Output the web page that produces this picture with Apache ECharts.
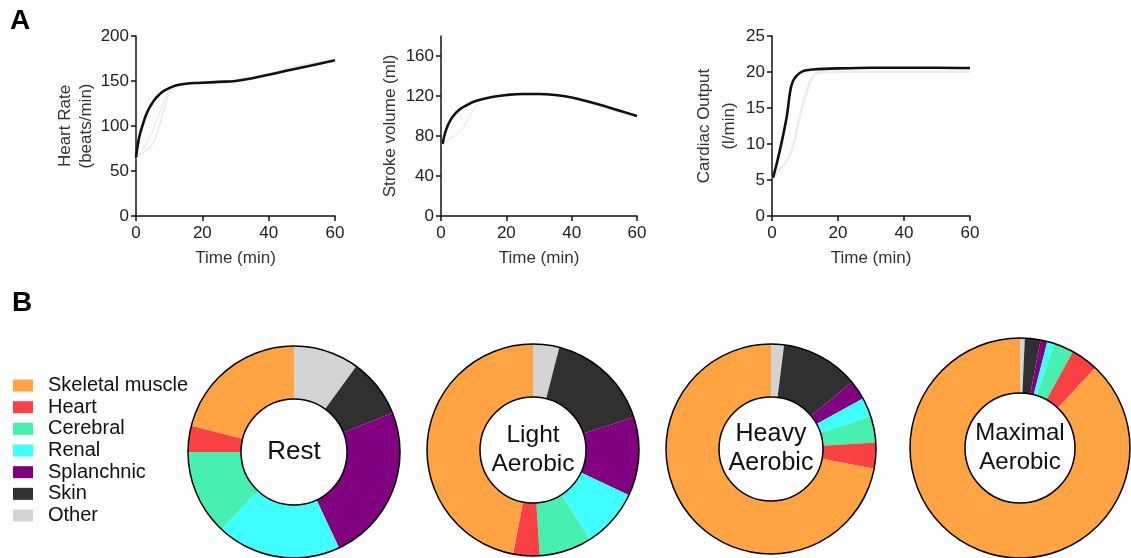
<!DOCTYPE html>
<html>
<head>
<meta charset="utf-8">
<script src="https://cdn.jsdelivr.net/npm/echarts@6/dist/echarts.min.js"></script>
<style>
html,body{margin:0;padding:0;background:#fff;}
#chart{width:1131px;height:558px;}
</style>
</head>
<body>
<div id="chart"></div>
<script>
// ---- Panel A data ----
const timeTicks = [0, 20, 40, 60];
const heartRateMain = [[0,65],[0.5,78],[1,88],[2,101],[3,112],[4,120],[5,126],[6,131],[8,138],[10,142],[12,145],[15,147],[20,148],[25,149],[30,150],[35,153],[40,157],[45,161],[50,165],[55,169],[60,173]];
const heartRateFaint1 = [[0,65],[5,80],[12,146],[20,149],[30,151],[40,158],[50,168],[60,173]];
const heartRateFaint2 = [[0,63],[4,86],[10,140],[13,147],[20,149],[30,150],[40,158],[50,166],[60,172]];
const strokeVolumeMain = [[0.5,72],[1,80],[2,90],[3.5,99],[5.5,106],[8,111],[10.6,115],[15.6,119],[20,121],[25,122],[30,122],[35,121],[40,118.5],[45,114.5],[50,110],[55,105],[60,100]];
const strokeVolumeFaint = [[0,72],[6,85],[12,115],[20,120],[30,121],[40,118],[50,108],[60,99]];
const cardiacOutputMain = [[0.3,5.3],[1.5,7.4],[3,10.4],[4.5,13.9],[5.5,17.3],[6.3,18.7],[7.3,19.4],[8.5,19.9],[10,20.2],[12.4,20.35],[20,20.5],[30,20.6],[40,20.6],[50,20.6],[60,20.55]];
const cardiacOutputFaint = [[0,5.3],[5.3,8.3],[8,13],[10,16.5],[12.4,19.4],[15.4,20],[20,20.05],[40,20.05],[60,20.05]];
const hrTicks = [0, 50, 100, 150, 200];
const svTicks = [0, 40, 80, 120, 160];
const coTicks = [0, 5, 10, 15, 20, 25];

// ---- Panel B data ----
const categories = ['Skeletal muscle','Heart','Cerebral','Renal','Splanchnic','Skin','Other'];
const categoryColors = ['#FFA343','#F94144','#47F0AE','#3FFFFF','#800080','#303030','#D3D3D3'];
const restValues = [21, 4, 13, 19, 24, 9, 10];
const lightValues = [47, 4, 8, 9, 12, 16, 4];
const heavyValues = [72, 4, 4, 3, 3, 12, 2];
const maximalValues = [88, 4, 3, 1, 1, 2.3, 0.7];
const stateLabels = ['Rest', 'Light\nAerobic', 'Heavy\nAerobic', 'Maximal\nAerobic'];

const FONT = 'Liberation Sans, Arial, sans-serif';
const chart = echarts.init(document.getElementById('chart'), null, {renderer: 'canvas'});

function xAxisDef(gi) {
  return {
    type: 'value', gridIndex: gi, min: 0, max: 60, interval: 20,
    name: 'Time (min)', nameLocation: 'middle', nameGap: 34,
    nameTextStyle: {fontSize: 17, color: '#333', fontFamily: FONT},
    axisLine: {show: true, lineStyle: {color: '#111', width: 1.5}},
    axisTick: {show: true, length: 5, lineStyle: {color: '#111', width: 1.5}},
    axisLabel: {fontSize: 17, color: '#222', margin: 9, fontFamily: FONT},
    splitLine: {show: false}
  };
}
function yAxisDef(gi, name, max, interval, ticks, gap, lh) {
  return {
    type: 'value', gridIndex: gi, min: 0, max: max, interval: interval,
    name: name, nameLocation: 'middle', nameGap: gap, nameRotate: 90,
    nameTextStyle: {fontSize: 17, color: '#333', fontFamily: FONT, lineHeight: lh},
    axisLine: {show: true, lineStyle: {color: '#111', width: 1.5}},
    axisTick: {show: true, length: 5, customValues: ticks, lineStyle: {color: '#111', width: 1.5}},
    axisLabel: {fontSize: 17, color: '#222', margin: 7, fontFamily: FONT, customValues: ticks},
    splitLine: {show: false}
  };
}
function lineSeries(gi, data, color, width, z, smooth) {
  return {
    type: 'line', xAxisIndex: gi, yAxisIndex: gi, data: data,
    smooth: smooth, showSymbol: false, symbol: 'none', silent: true, z: z,
    lineStyle: {color: color, width: width}
  };
}

const pieCenters = [[294, 452], [533, 450], [771, 449], [1020, 448]];
const pieRadii = [[53, 106], [53, 106], [52, 105], [55, 110]];
const pieValueSets = [restValues, lightValues, heavyValues, maximalValues];
const labelFontSizes = [26, 24.5, 25, 24];
const labelPads = [[0,0,4,0], [0,0,10,0], [0,0,10,0], [0,0,0,0]];

const series = [
  lineSeries(0, heartRateFaint1, '#d6d6d6', 0.8, 2, 0.3),
  lineSeries(0, heartRateFaint2, '#dcdcdc', 0.8, 2, 0.3),
  lineSeries(0, heartRateMain, '#111', 2.6, 3, 0.4),
  lineSeries(1, strokeVolumeFaint, '#f3dede', 1, 2, 0.3),
  lineSeries(1, strokeVolumeMain, '#111', 2.6, 3, 0.4),
  lineSeries(2, cardiacOutputFaint, '#ececec', 2.5, 2, 0.3),
  lineSeries(2, cardiacOutputMain, '#111', 2.6, 3, 0.3)
];

pieValueSets.forEach((vals, k) => {
  const data = [];
  for (let i = categories.length - 1; i >= 0; i--) {
    data.push({name: categories[i], value: vals[i], itemStyle: {color: categoryColors[i]}});
  }
  series.push({
    type: 'pie', center: pieCenters[k], radius: pieRadii[k],
    startAngle: 90, clockwise: true, avoidLabelOverlap: false, minAngle: 0,
    label: {show: false}, labelLine: {show: false}, silent: true,
    emphasis: {disabled: true}, animation: false,
    itemStyle: {borderWidth: 0},
    data: data
  });
  series.push({
    type: 'pie', center: pieCenters[k], radius: pieRadii[k],
    silent: true, emphasis: {disabled: true}, animation: false, z: 5,
    labelLine: {show: false},
    label: {show: true, position: 'center', formatter: stateLabels[k],
      fontSize: labelFontSizes[k], lineHeight: 29, color: '#111', fontFamily: FONT,
      padding: labelPads[k]},
    itemStyle: {color: 'rgba(0,0,0,0)', borderColor: '#000', borderWidth: 1.5},
    data: [{name: 'outline' + k, value: 1}]
  });
});

const option = {
  animation: false,
  backgroundColor: '#fff',
  textStyle: {fontFamily: FONT},
  grid: [
    {left: 136, top: 36, width: 199, height: 180},
    {left: 441, top: 36, width: 196, height: 180},
    {left: 772, top: 36, width: 198, height: 180}
  ],
  xAxis: [xAxisDef(0), xAxisDef(1), xAxisDef(2)],
  yAxis: [
    yAxisDef(0, 'Heart Rate\n(beats/min)', 200, 50, hrTicks, 39, 21),
    yAxisDef(1, 'Stroke volume (ml)', 180, 40, svTicks, 40, 21),
    yAxisDef(2, 'Cardiac Output\n(l/min)', 25, 5, coTicks, 25, 25)
  ],
  legend: {
    data: categories, orient: 'vertical', left: 8, top: 370.5,
    icon: 'rect', itemWidth: 20, itemHeight: 12, itemGap: 1.67,
    selectedMode: false,
    textStyle: {fontSize: 20, color: '#111', fontFamily: FONT, lineHeight: 19, padding: [0,0,0,10]}
  },
  graphic: [
    {type: 'text', left: 10, top: 7, style: {text: 'A', font: 'bold 28px ' + FONT, fill: '#000'}},
    {type: 'text', left: 12, top: 289, style: {text: 'B', font: 'bold 28px ' + FONT, fill: '#000'}}
  ],
  series: series
};
chart.setOption(option);
</script>
</body>
</html>
